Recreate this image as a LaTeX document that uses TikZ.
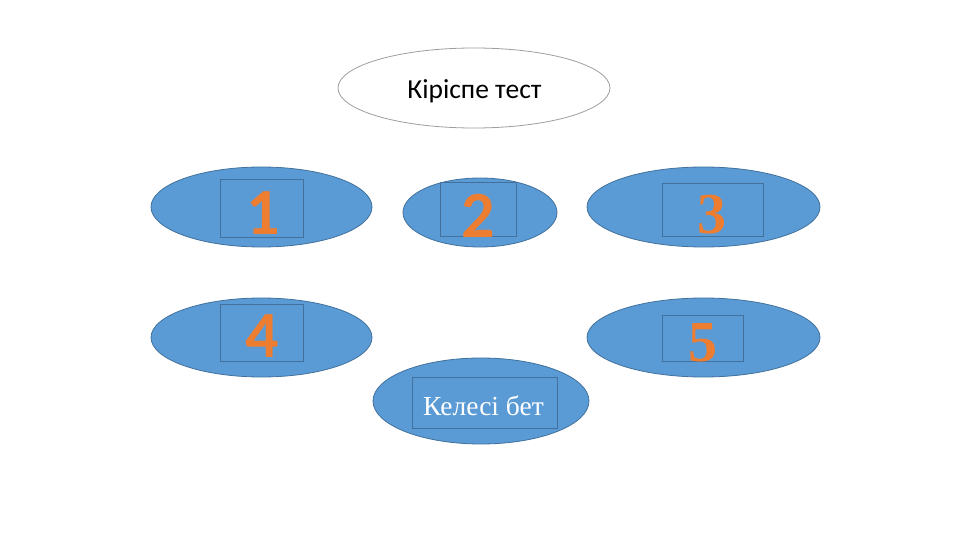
\documentclass[tikz,border=0pt]{standalone}
\usepackage{fontspec}
\setmainfont{Liberation Serif}
\newfontfamily\calib{Carlito}
\newfontfamily\calibbold{Carlito Bold}
\newfontfamily\timesbold{Liberation Serif Bold}
\usetikzlibrary{shapes.geometric}
\definecolor{ofblue}{HTML}{5B9BD5}
\definecolor{ofedge}{HTML}{41719C}
\definecolor{oforange}{HTML}{ED7D31}
\tikzset{
  blueell/.style={ellipse, fill=ofblue, draw=ofedge, line width=0.8pt, inner sep=0pt},
  whiteell/.style={ellipse, fill=white, draw=black!38, line width=0.8pt, inner sep=0pt},
  numbox/.style={rectangle, draw=ofedge, line width=0.6pt, inner sep=0pt},
  sansnum/.style={text=oforange, font=\calibbold\fontsize{66}{66}\selectfont, inner sep=0pt},
  serifnum/.style={text=oforange, font=\timesbold\fontsize{58}{58}\selectfont, inner sep=0pt},
}
\begin{document}
\begin{tikzpicture}[x=1pt,y=-1pt]
\useasboundingbox[fill=white] (0,0) rectangle (960,540);
% title
\node[whiteell, minimum width=272pt, minimum height=80pt] (intro) at (474,88) {};
\node[font=\calib\fontsize{27.5}{27.5}\selectfont, inner sep=0pt] (introtxt) at (474.5,91.5) {Кіріспе тест};
% 1
\node[blueell, minimum width=221pt, minimum height=80pt] (e1) at (261.5,207) {};
\node[numbox, minimum width=83pt, minimum height=58pt] (b1) at (261.5,208) {};
\node[sansnum] (n1) at (263,213) {1};
% 2
\node[blueell, minimum width=154pt, minimum height=69pt] (e2) at (480,212.5) {};
\node[numbox, minimum width=76pt, minimum height=54pt] (b2) at (478,209) {};
\node[sansnum] (n2) at (478,215.5) {2};
% 3
\node[blueell, minimum width=233pt, minimum height=80pt] (e3) at (703.5,207) {};
\node[numbox, minimum width=101pt, minimum height=53pt] (b3) at (712.5,209.5) {};
\node[serifnum] (n3) at (712,214.5) {3};
% 4
\node[blueell, minimum width=221pt, minimum height=79pt] (e4) at (261.5,337.5) {};
\node[numbox, minimum width=83pt, minimum height=57pt] (b4) at (261.5,332.5) {};
\node[sansnum] (n4) at (262,336.5) {4};
% 5
\node[blueell, minimum width=233pt, minimum height=79pt] (e5) at (703.5,337.5) {};
\node[numbox, minimum width=81pt, minimum height=46pt] (b5) at (702.5,338) {};
\node[serifnum] (n5) at (703,342.5) {5};
% next
\node[blueell, minimum width=216pt, minimum height=86pt] (e6) at (481,401) {};
\node[numbox, minimum width=145pt, minimum height=51pt] (b6) at (484.5,402.5) {};
\node[text=white, font=\fontsize{27.5}{27.5}\selectfont, inner sep=0pt] (next) at (483.5,406) {Келесі бет};
\end{tikzpicture}
\end{document}
